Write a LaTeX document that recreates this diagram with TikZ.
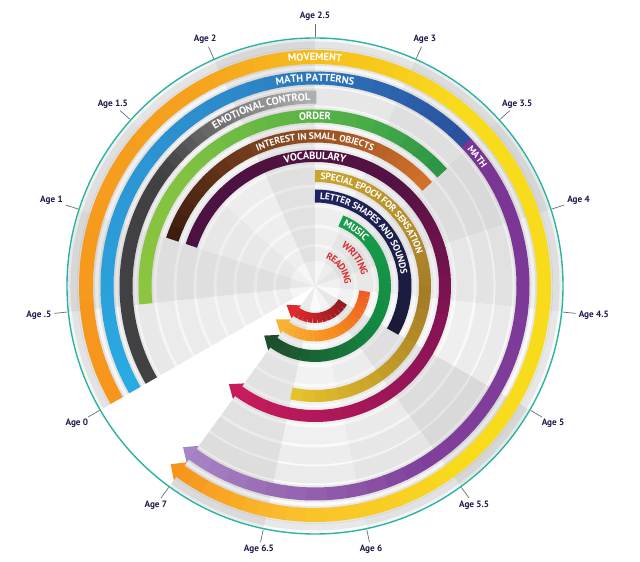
\documentclass[tikz,border=0pt]{standalone}
\usepackage{fontspec}
\setmainfont{PT Sans}
\usetikzlibrary{calc,decorations.text}
\definecolor{tealc}{HTML}{2BB3A1}
\definecolor{navyt}{HTML}{1D1B4C}
\definecolor{tickc}{HTML}{6D6E71}
\definecolor{mvO}{HTML}{F7941D}
\definecolor{mvO2}{HTML}{F5A11E}
\definecolor{mvY}{HTML}{F8DC1C}
\definecolor{mvG}{HTML}{F9BE2D}
\definecolor{mpC}{HTML}{29ABE2}
\definecolor{mpB}{HTML}{2D8ACB}
\definecolor{mpD}{HTML}{2B4E9C}
\definecolor{maP}{HTML}{7A3494}
\definecolor{maL}{HTML}{A784C3}
\definecolor{ecD}{HTML}{414042}
\definecolor{ecL}{HTML}{B3B3B3}
\definecolor{orL}{HTML}{8DC63F}
\definecolor{orM}{HTML}{4BAF47}
\definecolor{orD}{HTML}{2A9446}
\definecolor{isD}{HTML}{3B1B0F}
\definecolor{isM}{HTML}{8A4A22}
\definecolor{isO}{HTML}{D6712A}
\definecolor{voD}{HTML}{4A1240}
\definecolor{voM}{HTML}{8E1456}
\definecolor{voC}{HTML}{C81B5C}
\definecolor{seG}{HTML}{C9A631}
\definecolor{seB}{HTML}{A57B27}
\definecolor{seY}{HTML}{E8C42C}
\definecolor{lsN}{HTML}{1F2361}
\definecolor{lsD}{HTML}{1A1A36}
\definecolor{muG}{HTML}{17A04A}
\definecolor{muM}{HTML}{148A43}
\definecolor{muD}{HTML}{1E4E2B}
\definecolor{wrO}{HTML}{F15A24}
\definecolor{wrM}{HTML}{F68B1F}
\definecolor{wrY}{HTML}{F9B233}
\definecolor{rdD}{HTML}{8E1A1F}
\definecolor{rdR}{HTML}{E0282D}
\definecolor{txR}{HTML}{D62E2F}
% gradient arc: radius, width, age start, age end, colour 1, colour 2, steps
\newcommand\gradarc[7]{%
  \foreach \gi in {1,...,#7}{%
    \pgfmathsetmacro\ga{210-48*((#3)+((#4)-(#3))*(\gi-1)/#7)}%
    \pgfmathsetmacro\gb{210-48*((#3)+((#4)-(#3))*\gi/#7)-0.4}%
    \pgfmathtruncatemacro\gp{100*(\gi-0.5)/#7}%
    \draw[line width=#2pt, color=#6!\gp!#5] ($(O)+(\ga:#1)$) arc[start angle=\ga, end angle=\gb, radius=#1];%
  }%
}
% arrow head at age 7: radius, width, colour
\newcommand\arrowhd[3]{%
  \fill[#3] ($(O)+(-126:{#1+0.8*#2})$) -- ($(O)+(-126:#1)+(144:12)$) -- ($(O)+(-126:{#1-0.8*#2})$) -- cycle;
}
% text on arc: radius, age start, age end, align, size, colour, text
\newcommand\arctext[7]{%
  \pgfmathsetmacro\ta{210-48*(#2)}%
  \pgfmathsetmacro\tb{210-48*(#3)}%
  \path[decorate, decoration={text along path, text align=#4, raise=-3.4pt, text color=#6,
     text={|\fontsize{#5}{#5}\selectfont\bfseries|#7}}]
     ($(O)+(\ta:#1)$) arc[start angle=\ta, end angle=\tb, radius=#1];
}
\begin{document}
\begin{tikzpicture}[x=1pt,y=1pt,
  agelbl/.style={font=\fontsize{9.2}{11}\selectfont\bfseries, text=navyt, inner sep=1pt}]
\useasboundingbox (0,0) rectangle (640,562);
\fill[white] (0,0) rectangle (640,562);
\coordinate (O) at (315,276);
% background sectors
\foreach \k/\s in {0/8,1/18,2/12,3/7,4/17,5/7,6/14,7/19,8/12,9/5,10/19,11/9,12/4,13/16}{
  \pgfmathsetmacro\sa{210-24*\k}
  \pgfmathsetmacro\sb{210-24*(\k+1)}
  \fill[gray!\s] (O) -- ($(O)+(\sa:247)$) arc[start angle=\sa, end angle=\sb, radius=247] -- cycle;
}
% tracks
\foreach \r/\w/\op in {241/7/0.07, 229/18/0.07, 208/17/0.07, 189/17/0.06, 170/17/0.05, 150/17/0.04, 130/17/0.04, 110/17/0.035, 90/17/0.03, 70/17/0.03, 50/16/0.03, 32/14/0.03}{
  \draw[line width=\w pt, black, opacity=\op] ($(O)+(210:\r)$) arc[start angle=210, end angle=-126, radius=\r];
}
% MOVEMENT
\gradarc{229}{14}{0}{1.8}{mvO}{mvO2}{10}
\gradarc{229}{14}{1.8}{3.3}{mvO2}{mvY}{20}
\gradarc{229}{14}{3.3}{5.4}{mvY}{mvY}{1}
\gradarc{229}{14}{5.4}{6.4}{mvY}{mvG}{10}
\gradarc{229}{14}{6.4}{7}{mvG}{mvO}{8}
\arrowhd{229}{14}{mvO}
% MATH PATTERNS / MATH
\gradarc{208}{13}{0}{2.0}{mpC}{mpB}{14}
\gradarc{208}{13}{2.0}{3.47}{mpB}{mpD}{14}
\gradarc{208}{13}{3.47}{5.6}{maP}{maP!85!maL}{12}
\gradarc{208}{13}{5.6}{7}{maP!85!maL}{maL}{12}
\arrowhd{208}{13}{maL}
% EMOTIONAL CONTROL
\gradarc{189}{13}{0}{1.4}{ecD}{ecD}{1}
\gradarc{189}{13}{1.4}{2.5}{ecD}{ecL}{16}
% ORDER
\gradarc{170}{13}{0.5}{1.5}{orL}{orL!80!orM}{6}
\gradarc{170}{13}{1.5}{2.8}{orL!80!orM}{orM}{12}
\gradarc{170}{13}{2.8}{3.5}{orM}{orD}{6}
% INTEREST IN SMALL OBJECTS
\gradarc{150}{13}{1}{2.3}{isD}{isM}{12}
\gradarc{150}{13}{2.3}{3.5}{isM}{isO}{12}
% VOCABULARY
\gradarc{130}{12}{1}{3.3}{voD}{voD!85!voM}{8}
\gradarc{130}{12}{3.3}{5}{voD!85!voM}{voM}{14}
\gradarc{130}{12}{5}{7}{voM}{voC}{14}
\arrowhd{130}{12}{voC}
% SPECIAL EPOCH
\gradarc{110}{12}{2.5}{4.5}{seG}{seB}{16}
\gradarc{110}{12}{4.5}{6.5}{seB}{seY}{16}
% LETTER SHAPES
\gradarc{90}{13}{2.5}{5}{lsN}{lsD}{14}
% MUSIC
\gradarc{70}{12}{2.95}{5}{muG}{muM}{12}
\gradarc{70}{12}{5}{7}{muM}{muD}{12}
\arrowhd{70}{12}{muD}
% WRITING
\gradarc{50}{11}{4.5}{5.8}{wrO}{wrM}{10}
\gradarc{50}{11}{5.8}{7}{wrM}{wrY}{10}
\arrowhd{50}{11}{wrY}
% READING
\gradarc{32}{10}{5}{7}{rdD}{rdR}{12}
\arrowhd{32}{10}{rdR}
% texts on arcs
\arctext{229}{2.0}{3.0}{center}{10.5}{white}{MOVEMENT}
\arctext{208}{2.0}{3.0}{center}{10.5}{white}{MATH PATTERNS}
\arctext{208}{3.5}{4.2}{left}{9.5}{white}{MATH}
\arctext{189}{1.55}{2.47}{right}{10.5}{white}{EMOTIONAL CONTROL}
\arctext{170}{2.1}{2.9}{center}{10.5}{white}{ORDER}
\arctext{150}{1.8}{3.2}{center}{9.5}{white}{INTEREST IN SMALL OBJECTS}
\arctext{130}{2.0}{3.0}{center}{10.5}{white}{VOCABULARY}
\arctext{110}{2.56}{4.8}{left}{9.5}{white}{SPECIAL EPOCH FOR SENSATION}
\arctext{90}{2.57}{4.8}{left}{9.5}{white}{LETTER SHAPES AND SOUNDS}
\arctext{70}{3.02}{4.2}{left}{10}{white}{MUSIC}
\arctext{51}{3.2}{4.6}{left}{10}{txR}{WRITING}
\arctext{33}{2.95}{5.0}{left}{9.5}{txR}{READING}
% outer circle
\draw[tealc, line width=1.4pt] (O) circle[radius=248];
% ticks and labels
\foreach \a/\t [count=\n] in {0/Age 0, 0.5/Age .5, 1/Age 1, 1.5/Age 1.5, 2/Age 2, 2.5/Age 2.5, 3/Age 3, 3.5/Age 3.5, 4/Age 4, 4.5/Age 4.5, 5/Age 5, 5.5/Age 5.5, 6/Age 6, 6.5/Age 6.5, 7/Age 7}{
  \pgfmathsetmacro\th{210-48*\a}
  \pgfmathsetmacro\an{\th+180}
  \coordinate (t\n a) at ($(O)+(\th:249)$);
  \coordinate (t\n b) at ($(O)+(\th:262)$);
  \draw[tickc, line width=0.7pt] (t\n a) -- (t\n b);
  \node[agelbl, anchor=\an] (lbl\n) at ($(O)+(\th:264)$) {\t};
}
\end{tikzpicture}
\end{document}
